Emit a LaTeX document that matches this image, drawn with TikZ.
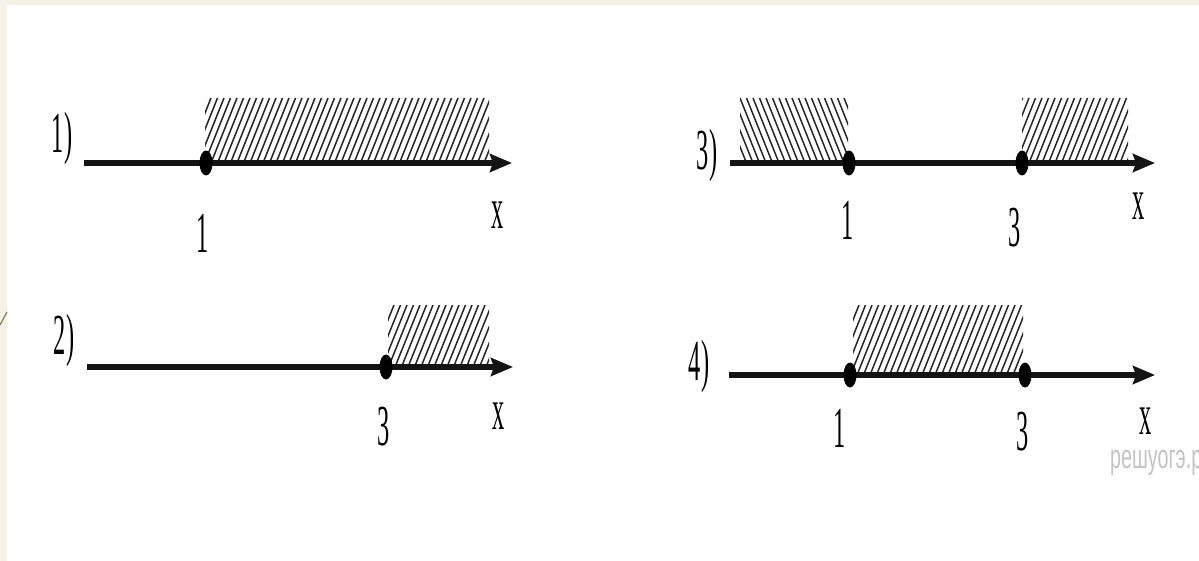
\documentclass[tikz,border=0pt]{standalone}
\usepackage{graphicx}
\usepackage{fontspec}
\setmainfont{Liberation Serif}
\newfontfamily\wmfont{Liberation Sans}
\usetikzlibrary{arrows.meta,shapes.geometric}
\definecolor{bgbeige}{HTML}{F2F3E6}
\definecolor{decoline}{HTML}{8A8660}
\definecolor{wmgray}{HTML}{C4C4C4}
\newcommand{\cnd}[1]{\scalebox{0.42}[1]{#1}}
\tikzset{
  axisline/.style={line width=5.5pt, draw=black!92, -{Stealth[length=22pt,width=18pt,inset=3pt]}},
  dotmark/.style={ellipse, fill=black, inner sep=0pt, minimum width=13pt, minimum height=25pt},
  hatchline/.style={line width=1.5pt, draw=black!85},
  lbl/.style={inner sep=0pt, font=\fontsize{58}{60}\selectfont},
  wmark/.style={inner sep=0pt, anchor=west, text=wmgray, font=\wmfont\fontsize{34}{34}\selectfont}
}
\begin{document}
\begin{tikzpicture}[x=1pt,y=-1pt]
\useasboundingbox (0,0) rectangle (1199,561);
\fill[white] (0,0) rectangle (1199,561);
\fill[bgbeige] (0,0) rectangle (1199,5);
\fill[bgbeige] (0,0) rectangle (7,561);
\coordinate (d1) at (0,325);
\coordinate (d2) at (7,312);
\draw[decoline, line width=1.3pt] (d1) -- (d2);

% ---------- Panel 1 ----------
\begin{scope}
\clip (205,98) rectangle (489,163);
\foreach \i in {172,178.5,...,492} \draw[hatchline] (\i,163) -- ++(26,-65);
\end{scope}
\coordinate (a1s) at (84,163);
\coordinate (a1e) at (512,163);
\draw[axisline] (a1s) -- (a1e);
\node[dotmark] (p1d) at (206,163) {};
\node[lbl] (p1lab) at (62,139) {\cnd{1)}};
\node[lbl] (p1n) at (203,233) {\cnd{1}};
\node[lbl] (p1x) at (498,215) {\cnd{x}};

% ---------- Panel 2 ----------
\begin{scope}
\clip (388,305) rectangle (489,367);
\foreach \i in {356,362.5,...,492} \draw[hatchline] (\i,367) -- ++(25,-62);
\end{scope}
\coordinate (a2s) at (87,367);
\coordinate (a2e) at (513,367);
\draw[axisline] (a2s) -- (a2e);
\node[dotmark] (p2d) at (386,367) {};
\node[lbl] (p2lab) at (64,341) {\cnd{2)}};
\node[lbl] (p2n) at (384,427) {\cnd{3}};
\node[lbl] (p2x) at (499,416) {\cnd{x}};

% ---------- Panel 3 ----------
\begin{scope}
\clip (740,98) rectangle (848,163);
\foreach \i in {740,746.5,...,882} \draw[hatchline] (\i,163) -- ++(-26,-65);
\end{scope}
\begin{scope}
\clip (1022,98) rectangle (1128,163);
\foreach \i in {990,996.5,...,1132} \draw[hatchline] (\i,163) -- ++(26,-65);
\end{scope}
\coordinate (a3s) at (730,163);
\coordinate (a3e) at (1155,163);
\draw[axisline] (a3s) -- (a3e);
\node[dotmark] (p3d1) at (849,163) {};
\node[dotmark] (p3d2) at (1022,163) {};
\node[lbl] (p3lab) at (707,156) {\cnd{3)}};
\node[lbl] (p3n1) at (848,220) {\cnd{1}};
\node[lbl] (p3n3) at (1015,228) {\cnd{3}};
\node[lbl] (p3x) at (1139,206) {\cnd{x}};

% ---------- Panel 4 ----------
\begin{scope}
\clip (853,305) rectangle (1023,375);
\foreach \i in {818,824.5,...,1026} \draw[hatchline] (\i,375) -- ++(28,-70);
\end{scope}
\coordinate (a4s) at (729,375);
\coordinate (a4e) at (1155,375);
\draw[axisline] (a4s) -- (a4e);
\node[dotmark] (p4d1) at (850,375) {};
\node[dotmark] (p4d2) at (1025,375) {};
\node[lbl] (p4lab) at (699,367) {\cnd{4)}};
\node[lbl] (p4n1) at (840,428) {\cnd{1}};
\node[lbl] (p4n3) at (1023,432) {\cnd{3}};
\node[lbl] (p4x) at (1146,421) {\cnd{x}};

% watermark
\node[wmark] (wm) at (1110,460) {\scalebox{0.58}[1]{решуогэ.рф}};
\end{tikzpicture}
\end{document}
